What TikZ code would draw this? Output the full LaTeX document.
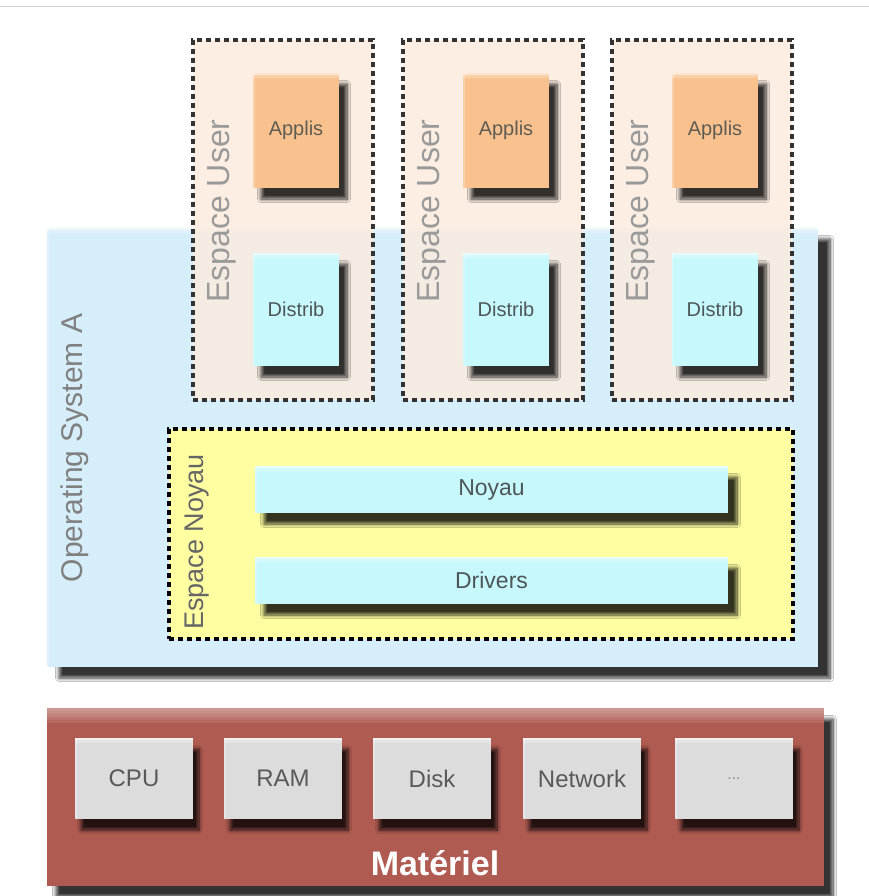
\documentclass[tikz,border=0pt]{standalone}
\usepackage{fontspec}
\setmainfont{Liberation Sans}
\usetikzlibrary{shadows.blur}
\definecolor{osblue}{HTML}{D5EEFA}
\definecolor{userfill}{HTML}{FCEBDD}
\definecolor{applis}{HTML}{F9C18D}
\definecolor{distrib}{HTML}{C6F8FC}
\definecolor{noyaufill}{HTML}{FFFFA2}
\definecolor{hwred}{HTML}{B05B52}
\definecolor{hwgrey}{HTML}{DCDCDC}
\definecolor{labelgrey}{HTML}{9A9A9A}
\definecolor{txtdark}{HTML}{4E5658}
\definecolor{dashgrey}{HTML}{333333}
\begin{document}
\begin{tikzpicture}[x=1pt,y=-1pt,
  sh/.style={blur shadow={shadow xshift=#1pt,shadow yshift=-11pt,shadow blur radius=3.5pt,shadow opacity=80,shadow blur steps=10}},
  sh/.default=8,
  hl/.style={path picture={
    \fill[white,opacity=.45] (path picture bounding box.north west) rectangle ([yshift=-2pt]path picture bounding box.north east);
    \fill[white,opacity=.25] (path picture bounding box.north west) rectangle ([yshift=-5pt]path picture bounding box.north east);
    \fill[white,opacity=.25] (path picture bounding box.north west) rectangle ([xshift=2pt]path picture bounding box.south west);}},
  redhl/.style={path picture={
    \foreach \k in {3,6,9,12,15}{
    \fill[white,opacity=.09] (path picture bounding box.north west) rectangle ([yshift=-\k pt]path picture bounding box.north east);}}},
  face/.style={anchor=north west,inner sep=0pt,outer sep=0pt,draw=none},
  dashline/.style={line width=3.2pt,dash pattern=on 5pt off 4pt},
  userbox/.style={face,fill=userfill,fill opacity=.82,draw=dashgrey,dashline,minimum width=180pt,minimum height=360pt},
  applisbox/.style={face,sh,fill=applis,hl,minimum width=86pt,minimum height=115pt,text=txtdark!85!brown,font=\fontsize{20}{24}\selectfont},
  distribbox/.style={face,sh,fill=distrib,hl,minimum width=86pt,minimum height=113pt,text=txtdark,font=\fontsize{20}{24}\selectfont},
  barbox/.style={face,sh=9,fill=distrib,hl,minimum width=473pt,minimum height=47pt,text=txtdark,font=\fontsize{23}{27}\selectfont},
  hwbox/.style={face,sh=6,fill=hwgrey,hl,minimum width=118pt,minimum height=81pt,text=black!65,font=\fontsize{24}{28}\selectfont},
  vlabel/.style={rotate=90,inner sep=0pt,text=labelgrey}]
\useasboundingbox (0,0) rectangle (869,896);
\fill[white] (0,0) rectangle (869,896);
\draw[black!18,line width=1pt] (0,7) -- (869,7);
% Operating system
\node[face,sh=12,fill=osblue,hl,minimum width=771pt,minimum height=439pt] (os) at (47,228) {};
\node[vlabel,font=\fontsize{30}{36}\selectfont,text=black!50] (oslabel) at (75,448) {Operating System A};
% user spaces
\foreach \i/\x in {1/193,2/403,3/612}{
  \node[userbox] (user\i) at (\x,40) {};
  \node[vlabel,font=\fontsize{32}{38}\selectfont] (userlabel\i) at (\x+29,211) {Espace User};
  \node[applisbox] (applis\i) at (\x+60,73) {Applis};
  \node[distribbox] (distrib\i) at (\x+60,253) {Distrib};
}
% kernel space
\node[face,fill=noyaufill,draw=black,dashline,minimum width=624pt,minimum height=210pt] (kspace) at (169,429) {};
\node[vlabel,font=\fontsize{27}{32}\selectfont,text=black!60] (klabel) at (197,542) {Espace Noyau};
\node[barbox] (noyau) at (255,466) {Noyau};
\node[barbox] (drivers) at (255,557) {Drivers};
% hardware
\node[face,sh=9,fill=hwred,redhl,minimum width=777pt,minimum height=178pt] (hw) at (47,708) {};
\node[hwbox] (cpu) at (75,738) {CPU};
\node[hwbox] (ram) at (224,738) {RAM};
\node[hwbox] (disk) at (373,738) {Disk};
\node[hwbox] (net) at (523,738) {Network};
\node[hwbox,font=\fontsize{16}{20}\selectfont,text=black!45] (etc) at (675,738) {...};
\node[anchor=base,inner sep=0pt,text=white,font=\fontsize{34}{40}\selectfont\bfseries] (mat) at (435,875) {Matériel};
\end{tikzpicture}
\end{document}
